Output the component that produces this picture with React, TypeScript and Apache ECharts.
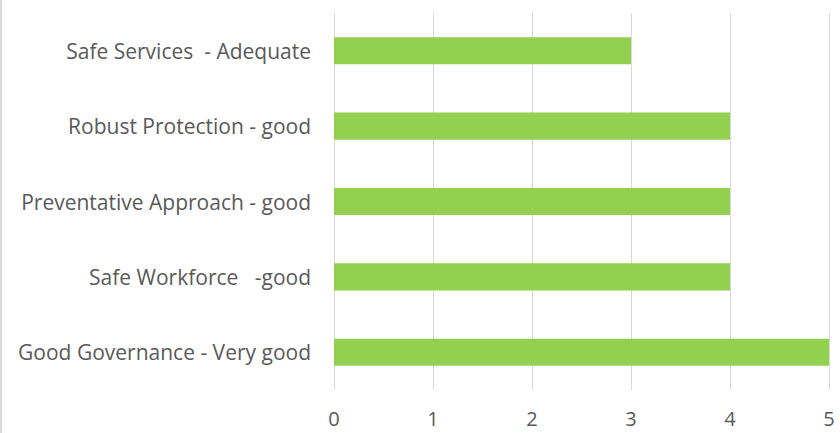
import React, { useEffect, useRef } from "react";
import * as echarts from "echarts";

const categories = [
  "Good Governance - Very good",
  "Safe Workforce   -good",
  "Preventative Approach - good",
  "Robust Protection - good",
  "Safe Services  - Adequate",
];
const values = [5, 4, 4, 4, 3];
const xTicks = [0, 1, 2, 3, 4, 5];

export default function App() {
  const ref = useRef<HTMLDivElement>(null);
  useEffect(() => {
    if (!ref.current) return;
    const chart = echarts.init(ref.current, undefined, { renderer: "svg" });
    const font = "Open Sans";
    chart.setOption({
      animation: false,
      backgroundColor: "#ffffff",
      grid: { left: 334, right: 11, top: 13, bottom: 43, containLabel: false },
      xAxis: {
        type: "value",
        min: xTicks[0],
        max: xTicks[xTicks.length - 1],
        interval: 1,
        axisLine: { show: false },
        axisTick: { show: false },
        splitLine: { show: true, lineStyle: { color: "#d9d9d9", width: 1 } },
        axisLabel: {
          color: "#595959",
          fontFamily: font,
          fontSize: 20,
          margin: 18,
        },
      },
      yAxis: {
        type: "category",
        data: categories,
        axisLine: { show: false },
        axisTick: { show: false },
        axisLabel: {
          color: "#595959",
          fontFamily: font,
          fontSize: 21,
          margin: 23,
        },
      },
      series: [
        {
          type: "bar",
          data: values,
          barWidth: "36%",
          itemStyle: { color: "#92d050" },
        },
      ],
      graphic: [
        {
          type: "rect",
          left: 0,
          top: 0,
          shape: { width: 2, height: 433 },
          style: { fill: "#d9d9d9" },
        },
      ],
    });
    return () => chart.dispose();
  }, []);
  return (
    <div
      ref={ref}
      style={{ position: "fixed", left: 0, top: 0, width: 840, height: 433 }}
    />
  );
}
